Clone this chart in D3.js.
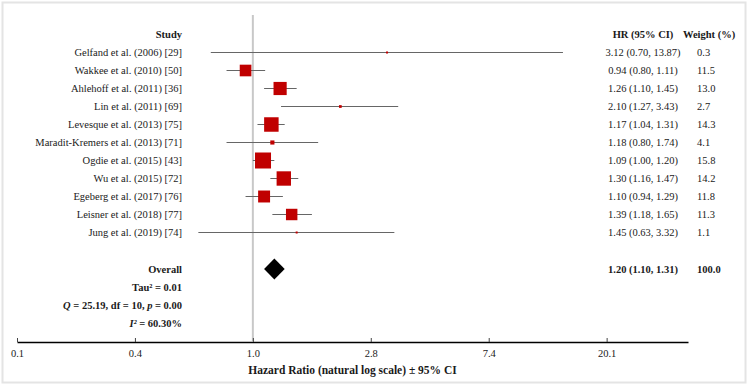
<!DOCTYPE html>
<html>
<head>
<meta charset="utf-8">
<script src="https://cdn.jsdelivr.net/npm/d3@7"></script>
<style>
  body { margin: 0; background: #fff; }
  text { font-family: "Liberation Serif", "Times New Roman", serif; fill: #1a1a1a; }
</style>
</head>
<body>
<script>
const width = 750;
const height = 387;

// data
const studies = [
  "Gelfand et al. (2006) [29]",
  "Wakkee et al. (2010) [50]",
  "Ahlehoff et al. (2011) [36]",
  "Lin et al. (2011) [69]",
  "Levesque et al. (2013) [75]",
  "Maradit-Kremers et al. (2013) [71]",
  "Ogdie et al. (2015) [43]",
  "Wu et al. (2015) [72]",
  "Egeberg et al. (2017) [76]",
  "Leisner et al. (2018) [77]",
  "Jung et al. (2019) [74]"
];
const hr = [3.12, 0.94, 1.26, 2.10, 1.17, 1.18, 1.09, 1.30, 1.10, 1.39, 1.45];
const lower = [0.70, 0.80, 1.10, 1.27, 1.04, 0.80, 1.00, 1.16, 0.94, 1.18, 0.63];
const upper = [13.87, 1.11, 1.45, 3.43, 1.31, 1.74, 1.20, 1.47, 1.29, 1.65, 3.32];
const weights = [0.3, 11.5, 13.0, 2.7, 14.3, 4.1, 15.8, 14.2, 11.8, 11.3, 1.1];
const overall = { hr: 1.20, lower: 1.10, upper: 1.31, weight: 100.0 };
const tickLogs = [-2, -1, 0, 1, 2, 3];
const tickLabels = ["0.1", "0.4", "1.0", "2.8", "7.4", "20.1"];

const fmt = d3.format(".2f");

const svg = d3.select("body").append("svg")
  .attr("width", width)
  .attr("height", height);

// frame
svg.append("rect")
  .attr("x", 2.5).attr("y", 2.5)
  .attr("width", 743).attr("height", 380)
  .attr("fill", "#fff")
  .attr("stroke", "#e4e4e4")
  .attr("stroke-width", 2);

const xScale = d3.scaleLog().base(Math.E)
  .domain([Math.exp(-2), Math.exp(3.69)])
  .range([17, 688]);

const yScale = d3.scaleLinear()
  .domain([0, studies.length - 1])
  .range([52, 232]);

const yHeader = 34;
const yOverall = 269;
const labelX = 182;
const hrX = 643;
const wX = 697;

// reference line at HR = 1
svg.append("line")
  .attr("x1", xScale(1)).attr("x2", xScale(1))
  .attr("y1", 15).attr("y2", 341)
  .attr("stroke", "#c8c8c8")
  .attr("stroke-width", 2);

// headers
const header = svg.append("g").attr("font-size", 10.5).attr("font-weight", "bold");
header.append("text").attr("x", labelX).attr("y", yHeader).attr("dy", "0.35em")
  .attr("text-anchor", "end").text("Study");
header.append("text").attr("x", hrX).attr("y", yHeader).attr("dy", "0.35em")
  .attr("text-anchor", "middle").text("HR (95% CI)");
header.append("text").attr("x", 683).attr("y", yHeader).attr("dy", "0.35em")
  .text("Weight (%)");

// rows
const rows = svg.append("g").selectAll("g")
  .data(studies)
  .join("g");

rows.append("text")
  .attr("x", labelX)
  .attr("y", (d, i) => yScale(i))
  .attr("dy", "0.35em")
  .attr("text-anchor", "end")
  .attr("font-size", 10.5)
  .text(d => d);

rows.append("line")
  .attr("x1", (d, i) => xScale(lower[i]))
  .attr("x2", (d, i) => xScale(upper[i]))
  .attr("y1", (d, i) => yScale(i) + 0.5)
  .attr("y2", (d, i) => yScale(i) + 0.5)
  .attr("stroke", "#666")
  .attr("stroke-width", 1);

const boxSize = d3.scaleLinear().domain([0, 15.8]).range([0, 16]);

rows.append("rect")
  .attr("x", (d, i) => xScale(hr[i]) - Math.max(2, boxSize(weights[i])) / 2)
  .attr("y", (d, i) => yScale(i) + 0.5 - Math.max(2, boxSize(weights[i])) / 2)
  .attr("width", (d, i) => Math.max(2, boxSize(weights[i])))
  .attr("height", (d, i) => Math.max(2, boxSize(weights[i])))
  .attr("fill", "#c00000");

rows.append("text")
  .attr("x", hrX)
  .attr("y", (d, i) => yScale(i))
  .attr("dy", "0.35em")
  .attr("text-anchor", "middle")
  .attr("font-size", 10.5)
  .text((d, i) => `${fmt(hr[i])} (${fmt(lower[i])}, ${fmt(upper[i])})`);

rows.append("text")
  .attr("x", wX)
  .attr("y", (d, i) => yScale(i))
  .attr("dy", "0.35em")
  .attr("font-size", 10.5)
  .text((d, i) => weights[i].toFixed(1));

// overall
const ov = svg.append("g").attr("font-size", 10.5).attr("font-weight", "bold");
ov.append("text").attr("x", labelX).attr("y", yOverall).attr("dy", "0.35em")
  .attr("text-anchor", "end").text("Overall");
ov.append("text").attr("x", hrX).attr("y", yOverall).attr("dy", "0.35em")
  .attr("text-anchor", "middle")
  .text(`${fmt(overall.hr)} (${fmt(overall.lower)}, ${fmt(overall.upper)})`);
ov.append("text").attr("x", wX).attr("y", yOverall).attr("dy", "0.35em")
  .text(overall.weight.toFixed(1));

const dh = 10.5;
svg.append("path")
  .attr("d", [
    [xScale(overall.lower), yOverall],
    [xScale(overall.hr), yOverall - dh],
    [xScale(overall.upper), yOverall],
    [xScale(overall.hr), yOverall + dh]
  ].map((p, i) => (i ? "L" : "M") + p[0] + "," + p[1]).join("") + "Z")
  .attr("fill", "#000");

// heterogeneity stats
ov.append("text").attr("x", labelX).attr("y", yOverall + 18).attr("dy", "0.35em")
  .attr("text-anchor", "end").text("Tau² = 0.01");
const t2 = ov.append("text").attr("x", labelX).attr("y", yOverall + 36).attr("dy", "0.35em")
  .attr("text-anchor", "end");
t2.append("tspan").attr("font-style", "italic").text("Q");
t2.append("tspan").text(" = 25.19, df = 10, ");
t2.append("tspan").attr("font-style", "italic").text("p");
t2.append("tspan").text(" = 0.00");
const t3 = ov.append("text").attr("x", labelX).attr("y", yOverall + 54).attr("dy", "0.35em")
  .attr("text-anchor", "end");
t3.append("tspan").attr("font-style", "italic").text("I²");
t3.append("tspan").text(" = 60.30%");

// axis
const xAxis = d3.axisBottom(xScale)
  .tickValues(tickLogs.map(v => Math.exp(v)))
  .tickFormat((d, i) => tickLabels[i])
  .tickSizeInner(-4)
  .tickSizeOuter(0)
  .tickPadding(8);

const axis_g = svg.append("g")
  .attr("class", "x_axis")
  .attr("transform", "translate(0,342)")
  .call(xAxis);

axis_g.select(".domain").attr("stroke", "#000").attr("stroke-width", 1.5);
axis_g.selectAll(".tick line").attr("stroke", "#444");
axis_g.selectAll(".tick text")
  .attr("font-family", "Liberation Serif, serif")
  .attr("font-size", 10.5)
  .attr("fill", "#555");

svg.append("text")
  .attr("x", (17 + 688) / 2)
  .attr("y", 370)
  .attr("dy", "0.35em")
  .attr("text-anchor", "middle")
  .attr("font-size", 11.5)
  .attr("font-weight", "bold")
  .text("Hazard Ratio (natural log scale) ± 95% CI");
</script>
</body>
</html>
